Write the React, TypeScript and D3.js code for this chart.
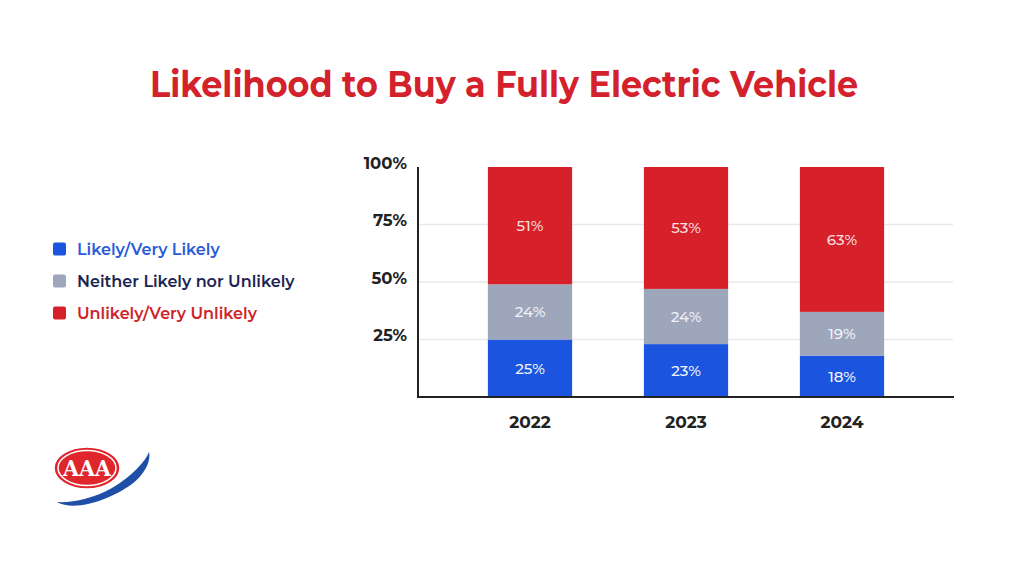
import React, { useEffect, useRef } from "react";
import * as d3 from "d3";

const years = ["2022", "2023", "2024"];
const categories = [
  "Likely/Very Likely",
  "Neither Likely nor Unlikely",
  "Unlikely/Very Unlikely",
];
const likely = [25, 23, 18];
const neither = [24, 24, 19];
const unlikely = [51, 53, 63];
const yTicks = [25, 50, 75, 100];

const barColors = ["#1b55df", "#9ea6bb", "#d7212a"];
const legendTextColors = ["#2a5bd8", "#1b2452", "#cf2229"];

export default function App() {
  const ref = useRef<SVGSVGElement>(null);

  useEffect(() => {
    if (!ref.current) return;
    const svg = d3.select(ref.current);
    svg.selectAll("*").remove();

    const font = "Montserrat, 'Open Sans', Lato, sans-serif";

    // title
    svg
      .append("text")
      .attr("x", 504)
      .attr("y", 97)
      .attr("text-anchor", "middle")
      .attr("textLength", 708)
      .attr("lengthAdjust", "spacingAndGlyphs")
      .style("font-family", font)
      .style("font-weight", 700)
      .style("font-size", "36px")
      .style("fill", "#d3222b")
      .text("Likelihood to Buy a Fully Electric Vehicle");

    const x = d3
      .scaleBand<string>()
      .domain(years)
      .range([452, 920])
      .paddingInner(0.46)
      .paddingOuter(0.23);
    const y = d3.scaleLinear().domain([0, 100]).range([397, 167]);

    const rows = years.map((yr, i) => ({
      year: yr,
      likely: likely[i],
      neither: neither[i],
      unlikely: unlikely[i],
    }));
    const keys = ["likely", "neither", "unlikely"];
    const stack = d3.stack<any>().keys(keys)(rows);

    // gridlines
    svg
      .append("g")
      .selectAll("line")
      .data(yTicks.slice(0, 3))
      .enter()
      .append("line")
      .attr("x1", 419)
      .attr("x2", 953)
      .attr("y1", (d) => y(d))
      .attr("y2", (d) => y(d))
      .style("stroke", "#e9e9e9")
      .style("stroke-width", 1.5);

    // bars
    stack.forEach((layer, li) => {
      const g = svg.append("g");
      g.selectAll("rect")
        .data(layer)
        .enter()
        .append("rect")
        .attr("x", (d: any) => x(d.data.year)!)
        .attr("width", x.bandwidth())
        .attr("y", (d: any) => y(d[1]))
        .attr("height", (d: any) => y(d[0]) - y(d[1]))
        .style("fill", barColors[li]);
      g.selectAll("text")
        .data(layer)
        .enter()
        .append("text")
        .attr("x", (d: any) => x(d.data.year)! + x.bandwidth() / 2)
        .attr("y", (d: any) => (y(d[0]) + y(d[1])) / 2)
        .attr("dy", "0.35em")
        .attr("text-anchor", "middle")
        .style("font-family", font)
        .style("font-weight", 500)
        .style("font-size", "15px")
        .style("fill", li === 2 ? "#f8dcdc" : "#f0f2f8")
        .text((d: any) => `${d[1] - d[0]}%`);
    });

    // axes
    svg
      .append("line")
      .attr("x1", 418)
      .attr("x2", 418)
      .attr("y1", 167)
      .attr("y2", 397)
      .style("stroke", "#222")
      .style("stroke-width", 2);
    svg
      .append("line")
      .attr("x1", 417)
      .attr("x2", 954)
      .attr("y1", 397)
      .attr("y2", 397)
      .style("stroke", "#222")
      .style("stroke-width", 2);

    svg
      .append("g")
      .selectAll("text")
      .data(yTicks)
      .enter()
      .append("text")
      .attr("x", 407)
      .attr("y", (d) => y(d) - 4)
      .attr("text-anchor", "end")
      .attr("dy", "0.35em")
      .style("font-family", font)
      .style("font-weight", 700)
      .style("font-size", "16.5px")
      .style("fill", "#222")
      .text((d) => `${d}%`);

    svg
      .append("g")
      .selectAll("text")
      .data(years)
      .enter()
      .append("text")
      .attr("x", (d) => x(d)! + x.bandwidth() / 2)
      .attr("y", 422)
      .attr("dy", "0.35em")
      .attr("text-anchor", "middle")
      .style("font-family", font)
      .style("font-weight", 700)
      .style("font-size", "17px")
      .style("fill", "#222")
      .text((d) => d);

    // legend
    const legend = svg
      .append("g")
      .selectAll("g")
      .data(categories)
      .enter()
      .append("g")
      .attr("transform", (_d, i) => `translate(53,${249 + i * 32})`);
    legend
      .append("rect")
      .attr("x", 0)
      .attr("y", -6.5)
      .attr("width", 13)
      .attr("height", 13)
      .attr("rx", 2)
      .style("fill", (_d, i) => barColors[i]);
    legend
      .append("text")
      .attr("x", 24)
      .attr("dy", "0.35em")
      .style("font-family", font)
      .style("font-weight", 600)
      .style("font-size", "16px")
      .style("fill", (_d, i) => legendTextColors[i])
      .text((d) => d);

    // AAA logo
    const logo = svg.append("g");
    logo
      .append("path")
      .attr(
        "d",
        "M57,502 C75,512 110,500 132,484 C146,473 151,460 149,452 C145,462 132,476 112,488 C92,499 72,503 57,502 Z"
      )
      .style("fill", "#1f4fa8");
    logo
      .append("ellipse")
      .attr("cx", 87)
      .attr("cy", 468)
      .attr("rx", 33)
      .attr("ry", 21)
      .style("fill", "#e0252c")
      .style("stroke", "#fff")
      .style("stroke-width", 1.5);
    logo
      .append("ellipse")
      .attr("cx", 87)
      .attr("cy", 468)
      .attr("rx", 29)
      .attr("ry", 17.5)
      .style("fill", "none")
      .style("stroke", "#fff")
      .style("stroke-width", 1.5);
    logo
      .append("text")
      .attr("x", 87)
      .attr("y", 476)
      .attr("text-anchor", "middle")
      .attr("textLength", 48)
      .attr("lengthAdjust", "spacingAndGlyphs")
      .style("font-family", "'DejaVu Serif', serif")
      .style("font-weight", 700)
      .style("font-size", "22px")
      .style("fill", "#fff")
      .text("AAA");
  }, []);

  return (
    <div style={{ width: 1024, height: 576, background: "#fff", margin: -8 }}>
      <svg ref={ref} width={1024} height={576} style={{ display: "block" }} />
    </div>
  );
}
